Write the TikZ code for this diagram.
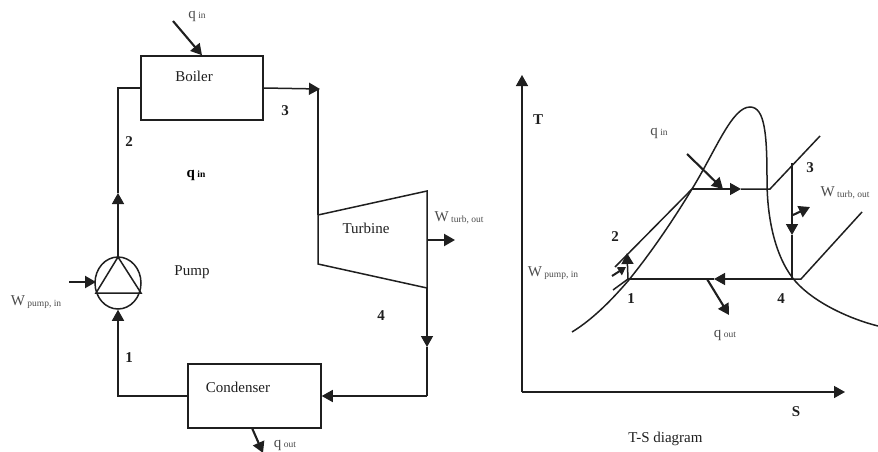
\documentclass[tikz,border=0pt]{standalone}
\usepackage{fontspec}
\setmainfont{Liberation Serif}
\usetikzlibrary{arrows.meta,shapes.geometric}
\definecolor{ink}{gray}{0.12}
\definecolor{soft}{gray}{0.3}
\newcommand{\mainsz}{\fontsize{15}{17}\selectfont}
\newcommand{\subsz}{\fontsize{9.5}{10}\selectfont}
\newcommand{\qty}[2]{{\color{soft}\mainsz #1\,\raisebox{-0.5pt}{\subsz #2}}}
\tikzset{
  x=1pt,y=-1pt,
  pipe/.style={draw=ink,line width=1.5pt,line cap=butt,line join=miter},
  flow/.style={pipe,-{Triangle[length=11pt,width=12pt]}},
  heat/.style={flow,line width=2.1pt},
  smallheat/.style={pipe,line width=2pt,-{Triangle[length=8pt,width=9pt]}},
  box/.style={draw=ink,line width=1.5pt,fill=white,inner sep=0pt},
  lab/.style={inner sep=0pt,text=ink,font=\mainsz},
  bold/.style={inner sep=0pt,text=ink,font=\mainsz\bfseries},
}
\begin{document}
\begin{tikzpicture}
\useasboundingbox (0,0) rectangle (878,452);
% --- cycle diagram
\node[box,minimum width=122pt,minimum height=64pt] (boiler) at (202,88) {};
\node[lab] (boilertxt) at (194,76) {Boiler};
\node[box,minimum width=133pt,minimum height=64pt] (condenser) at (254.5,396) {};
\node[lab] (condensertxt) at (238,387) {Condenser};
\node[box,ellipse,minimum width=46pt,minimum height=52pt] (pump) at (118,283) {};
\coordinate (ptop) at (118,257);
\coordinate (pl) at (96,293);
\coordinate (pr) at (141,293);
\draw[pipe] (ptop) -- (pl) -- (pr) -- cycle;
\coordinate (t1) at (318,215);
\coordinate (t2) at (427,191);
\coordinate (t3) at (427,288);
\coordinate (t4) at (318,264);
\draw[pipe] (t1) -- (t2) -- (t3) -- (t4) -- cycle;
\node[lab] (turbinetxt) at (366,228) {Turbine};
\node[lab] (pumptxt) at (192,272) {Pump};
% pipes
\coordinate (c2) at (118,88);
\coordinate (a2) at (118,193);
\coordinate (c3) at (318,89);
\coordinate (c4) at (427,396);
\coordinate (a4) at (427,347);
\coordinate (c1) at (118,396);
\draw[pipe] (boiler.west |- c2) -- (c2) -- (a2);
\draw[flow] (ptop) -- (a2);
\draw[pipe] (c3) -- (t1);
\draw[flow] (boiler.east |- c2) -- (320,89);
\draw[pipe] (a4) -- (c4);
\draw[flow] (t3) -- (a4);
\draw[flow] (c4) -- (condenser.east |- c4);
\draw[flow] (condenser.west |- c1) -- (c1) -- (pump.south);
% heat / work arrows
\coordinate (qi0) at (173,21);
\coordinate (wp0) at (69,282);
\coordinate (wt1) at (455,240);
\coordinate (qo1) at (263,453);
\draw[heat] (qi0) -- (boiler.north);
\draw[heat] (wp0) -- (96,282);
\draw[heat] (428,240) -- (wt1);
\draw[heat] (252,428) -- (qo1);
% labels
\node[bold] (n2) at (129,142) {2};
\node[bold] (n3) at (285,111) {3};
\node[bold] (n1) at (129,358) {1};
\node[bold] (n4) at (381,316) {4};
\node[inner sep=0pt] (qa) at (197,16) {\qty{q}{in}};
\node[inner sep=0pt] (qb) at (196,175) {{\mainsz\bfseries q\,\raisebox{-0.5pt}{\subsz in}}};
\node[inner sep=0pt] (wa) at (36,302) {\qty{W}{pump, in}};
\node[inner sep=0pt] (wb) at (459,218) {\qty{W}{turb, out}};
\node[inner sep=0pt] (qc) at (285,445) {\qty{q}{out}};
% --- T-S diagram
\coordinate (O) at (522,392);
\draw[flow] (O) -- (522,75);
\draw[flow] (O) -- (845,392);
\node[bold] (T) at (538,120) {T};
\node[bold] (S) at (796,412) {S};
\node[lab] (tstxt) at (665.5,439) {T-S diagram};
% dome
\draw[pipe] (572,332) .. controls (595,318) and (615,296) .. (628,281)
  .. controls (650,254) and (672,222) .. (692,189)
  .. controls (716,150) and (732,107) .. (750,107)
  .. controls (765,107) and (767,135) .. (767,180)
  .. controls (767,225) and (778,262) .. (796,282)
  .. controls (815,303) and (850,319) .. (878,326);
% cycle
\coordinate (s1) at (628,279);
\coordinate (s2) at (615,267);
\coordinate (sf) at (692,189);
\coordinate (sg) at (770,189);
\coordinate (s3) at (792,163);
\coordinate (s4) at (792,279);
\coordinate (s5) at (801,279);
\draw[pipe] (s2) -- (sf);
\draw[pipe] (741,189) -- (sg) -- (820,136);
\draw[pipe] (613,290) -- (s1);
\draw[pipe] (714,279) -- (s1);
\draw[pipe] (s4) -- (s5) -- (862,212);
\draw[pipe] (792,235) -- (s4);
\draw[flow] (sf) -- (741,189);
\draw[flow] (s3) -- (792,235);
\draw[flow] (s4) -- (714,279);
\draw[flow] (s1) -- (627,253);
\draw[heat] (687,154) -- (723,189);
\draw[smallheat] (612,276) -- (626,267);
\draw[heat] (793,215) -- (810,207);
\draw[heat] (707,279) -- (729,315);
\node[bold] (m2) at (615,237) {2};
\node[bold] (m3) at (810,168) {3};
\node[bold] (m1) at (631,299) {1};
\node[bold] (m4) at (781,299) {4};
\node[inner sep=0pt] (qd) at (659,133) {\qty{q}{in}};
\node[inner sep=0pt] (qe) at (725,335) {\qty{q}{out}};
\node[inner sep=0pt] (wc) at (553,273) {\qty{W}{pump, in}};
\node[inner sep=0pt] (wd) at (845,193) {\qty{W}{turb, out}};
\end{tikzpicture}
\end{document}
